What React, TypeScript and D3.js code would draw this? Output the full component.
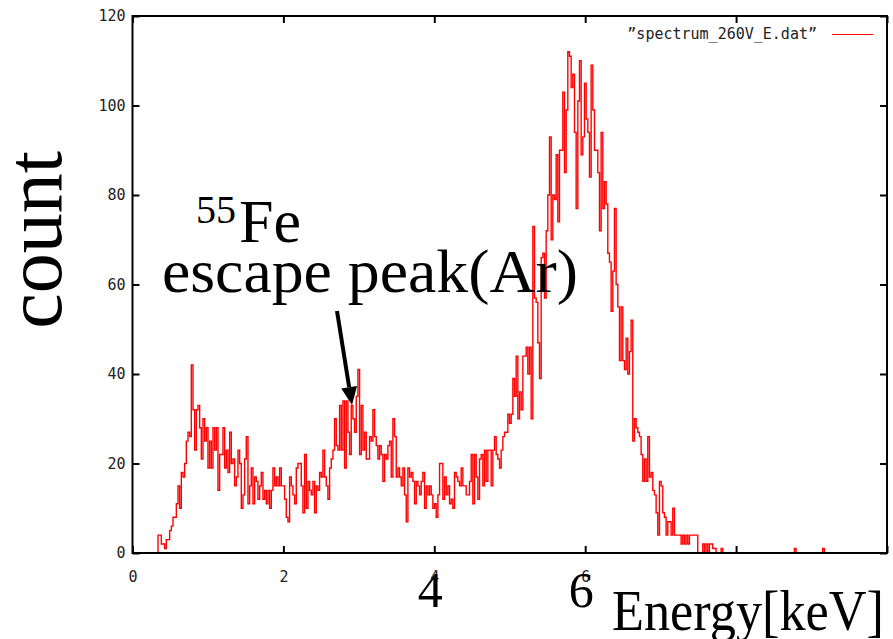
import * as d3 from 'd3';
import { useEffect, useRef } from 'react';

// histogram: first bin energy and bin width in keV, counts per bin
const E_START = 0.338;
const BIN_WIDTH = 0.02208;
const COUNTS = [
  4, 4, 2, 2, 1, 3, 3, 5, 6, 8, 8, 11, 15, 10, 18, 17, 20, 25, 27, 26,
  42, 32, 23, 32, 33, 28, 21, 30, 25, 28, 19, 25, 19, 28, 23, 28, 14, 22, 22, 28,
  19, 23, 18, 27, 20, 21, 15, 17, 23, 20, 10, 13, 21, 26, 11, 15, 19, 11, 17, 16,
  12, 15, 18, 12, 14, 11, 14, 10, 14, 19, 15, 17, 15, 19, 15, 15, 12, 8, 7, 17,
  15, 13, 11, 19, 20, 20, 15, 9, 22, 10, 16, 14, 13, 16, 9, 15, 14, 18, 17, 23,
  17, 15, 12, 19, 21, 23, 30, 24,
  23, 33, 23, 34, 19, 34, 27, 22, 33, 30, 27, 35, 41, 22, 33, 23, 27, 21, 21, 26,
  25, 32, 26, 24, 21, 24, 22, 16, 22, 21, 24, 25, 17, 30, 26, 17, 19, 17, 15, 19,
  13, 7, 19, 17, 18, 16, 11, 16, 15, 13, 16, 18, 10, 15, 13, 15, 13, 10, 11, 8,
  13, 20, 20, 12, 17, 13, 15, 11, 12, 10, 18, 17, 16, 15, 19, 15, 15, 13, 13, 16,
  22, 11, 22, 17, 12, 21, 22, 15, 23, 16, 23, 23, 15, 23, 26, 22, 21, 19, 23, 26,
  27, 27, 31, 29, 31, 39, 35, 44,
  30, 36, 32, 44, 44, 46, 40, 46, 30, 73, 57, 56, 47, 39, 66, 67, 57, 72, 80, 93,
  70, 80, 79, 89, 74, 90, 90, 103, 85, 99, 112, 111, 104, 107, 94, 77, 101, 110, 89, 93,
  105, 97, 94, 84, 109, 99, 90, 90, 85, 72, 94, 77, 83, 78, 67, 65, 54, 63, 77, 60,
  55, 43, 55, 43, 41, 48, 40, 45, 52, 25, 30, 28, 27, 26, 22, 16, 21, 16, 26, 17,
  18, 14, 13, 9, 4, 16, 15, 9, 8, 4, 7, 7, 4, 10, 4, 4, 4, 4, 2, 4,
  2, 4, 2, 4, 4, 4, 4, 4, 0, 0, 0, 2, 0, 2, 0, 2, 2, 1, 1, 0,
  0, 0, 1, 0, 0, 0, 0, 0, 0, 0, 0, 0, 0, 0, 0, 0, 0, 0, 0, 0,
  0, 0, 0, 0, 0, 0, 0, 0, 0, 0, 0, 0, 0, 0, 0, 0, 0, 0, 0, 0,
  0, 0, 0, 0, 0, 0, 1, 0, 0, 0, 0, 0, 0, 0, 0, 0, 0, 0, 0, 0,
  0, 0, 0, 1, 0, 0, 0, 0, 0, 0, 0, 0, 0, 0, 0, 0, 0, 0, 0, 0,
  0, 0, 0, 0, 0, 0, 0, 0, 0, 0, 0, 0, 0, 0, 0, 0, 0, 0,
];

const X_TICKS = [0, 2, 4, 6, 8, 10];
const X_LABELED = [0, 2, 4, 6];
const Y_TICKS = [0, 20, 40, 60, 80, 100, 120];
const BIG_X_LABELS = ['4', '6'];
const LEGEND = '”spectrum_260V_E.dat”';

const W = 893;
const H = 639;
const SERIF = '"Liberation Serif", "Times New Roman", serif';
const MONO = '"DejaVu Sans Mono", monospace';

export default function App() {
  const svgRef = useRef<SVGSVGElement>(null);

  useEffect(() => {
    if (!svgRef.current) return;
    const svg = d3.select(svgRef.current);
    svg.selectAll('*').remove();

    const left = 132.5, right = 887, top = 16, bottom = 553;
    const x = d3.scaleLinear().domain([0, 10]).range([left, right]);
    const y = d3.scaleLinear().domain([0, 120]).range([bottom, top]);

    svg.append('clipPath').attr('id', 'plot').append('rect')
      .attr('x', left).attr('y', top - 2).attr('width', right - left).attr('height', bottom - top + 2);

    // spectrum as steps
    const pts = [{ e: E_START, c: 0 }, ...COUNTS.map((c, i) => ({ e: E_START + i * BIN_WIDTH, c }))];
    pts.push({ e: E_START + COUNTS.length * BIN_WIDTH, c: COUNTS[COUNTS.length - 1] });
    const line = d3.line<{ e: number; c: number }>()
      .x((d) => x(d.e))
      .y((d) => y(d.c))
      .curve(d3.curveStepAfter);
    svg.append('path').datum(pts)
      .attr('clip-path', 'url(#plot)')
      .attr('fill', 'none')
      .attr('stroke', '#ff0000')
      .attr('stroke-width', 1.4)
      .attr('d', line);

    // axes, ticks inward like gnuplot
    const styleAxis = (g: d3.Selection<SVGGElement, unknown, null, undefined>) => {
      g.select('.domain').remove();
      g.selectAll('.tick line').attr('stroke', '#000').attr('stroke-width', 2);
      g.selectAll('text').attr('fill', '#222').attr('font-family', MONO).attr('font-size', 15);
    };
    svg.append('g').attr('transform', `translate(${left},0)`)
      .call(d3.axisLeft(y).tickValues(Y_TICKS).tickSize(-7).tickPadding(7))
      .call(styleAxis);
    svg.append('g').attr('transform', `translate(${right},0)`)
      .call(d3.axisRight(y).tickValues(Y_TICKS).tickSize(-7).tickFormat(() => ''))
      .call(styleAxis);
    svg.append('g').attr('transform', `translate(0,${bottom})`)
      .call(d3.axisBottom(x).tickValues(X_TICKS).tickSize(-7).tickPadding(18)
        .tickFormat((d) => (X_LABELED.includes(d as number) ? String(d) : '')))
      .call(styleAxis);
    svg.append('g').attr('transform', `translate(0,${top})`)
      .call(d3.axisTop(x).tickValues(X_TICKS).tickSize(-7).tickFormat(() => ''))
      .call(styleAxis);

    svg.append('rect')
      .attr('x', left).attr('y', top).attr('width', right - left).attr('height', bottom - top)
      .attr('fill', 'none').attr('stroke', '#000').attr('stroke-width', 2);

    // legend
    svg.append('text').attr('x', 817).attr('y', 39).attr('text-anchor', 'end')
      .attr('font-family', MONO).attr('font-size', 15).attr('fill', '#222').text(LEGEND);
    svg.append('line').attr('x1', 832).attr('x2', 873).attr('y1', 34.5).attr('y2', 34.5)
      .attr('stroke', '#ff0000').attr('stroke-width', 1);

    // big slide-style labels
    svg.append('text').attr('transform', 'translate(61,240) rotate(-90)')
      .attr('text-anchor', 'middle').attr('font-family', SERIF).attr('font-size', 80)
      .attr('fill', '#000').text('count');

    const fe = svg.append('text').attr('font-family', SERIF).attr('fill', '#000');
    fe.append('tspan').attr('x', 196).attr('y', 223).attr('font-size', 40).text('55');
    fe.append('tspan').attr('x', 239).attr('y', 242).attr('font-size', 62).text('Fe');

    svg.append('text').attr('x', 162).attr('y', 292)
      .attr('font-family', SERIF).attr('font-size', 62).attr('fill', '#000')
      .attr('textLength', 416).attr('lengthAdjust', 'spacingAndGlyphs')
      .text('escape peak(Ar)');

    BIG_X_LABELS.forEach((t) => {
      svg.append('text').attr('x', x(+t) - 4).attr('y', 607).attr('text-anchor', 'middle')
        .attr('font-family', SERIF).attr('font-size', 50).attr('fill', '#000').text(t);
    });

    svg.append('text').attr('x', 612).attr('y', 630)
      .attr('font-family', SERIF).attr('font-size', 57).attr('fill', '#000')
      .attr('textLength', 272).attr('lengthAdjust', 'spacingAndGlyphs')
      .text('Energy[keV]');

    // arrow pointing at the escape peak
    const tip = { x: 352, y: 405 };
    const tail = { x: 337, y: 311 };
    const ang = Math.atan2(tip.y - tail.y, tip.x - tail.x);
    const hl = 18, hw = 8;
    const bx = tip.x - hl * Math.cos(ang), by = tip.y - hl * Math.sin(ang);
    svg.append('line').attr('x1', tail.x).attr('y1', tail.y).attr('x2', bx).attr('y2', by)
      .attr('stroke', '#000').attr('stroke-width', 4);
    svg.append('path')
      .attr('d', `M${tip.x},${tip.y}L${bx + hw * Math.sin(ang)},${by - hw * Math.cos(ang)}L${bx - hw * Math.sin(ang)},${by + hw * Math.cos(ang)}Z`)
      .attr('fill', '#000');
  }, []);

  return (
    <svg
      ref={svgRef}
      width={W}
      height={H}
      style={{ position: 'absolute', left: 0, top: 0, background: '#fff' }}
    />
  );
}
